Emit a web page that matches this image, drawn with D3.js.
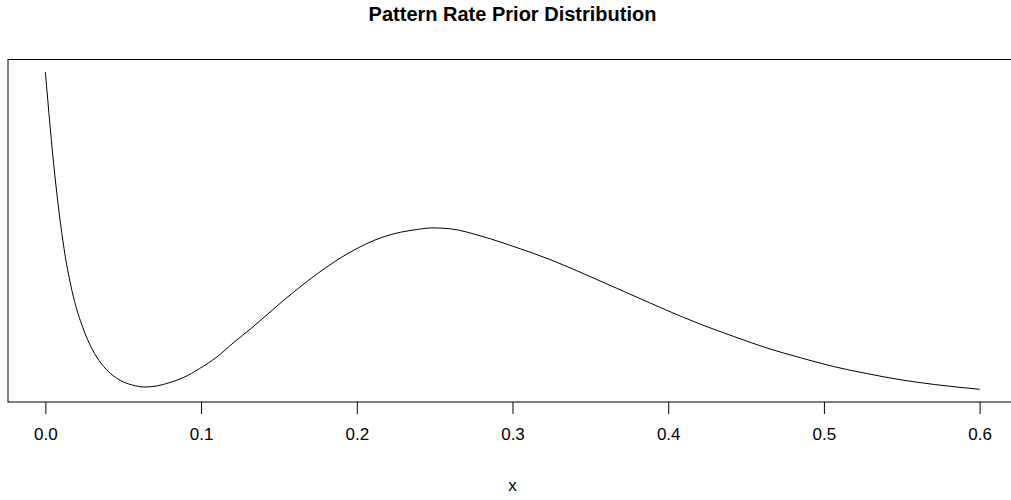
<!DOCTYPE html>
<html>
<head>
<meta charset="utf-8">
<script src="https://cdn.jsdelivr.net/npm/d3@7"></script>
<style>
  body { margin: 0; background: #fff; }
  svg { display: block; font-family: "Liberation Sans", Arial, sans-serif; }
</style>
</head>
<body>
<div id="chart"></div>
<script>
const xValues = [0.000, 0.006, 0.012, 0.018, 0.024, 0.030, 0.036, 0.042, 0.048, 0.056,
  0.064, 0.072, 0.080, 0.089, 0.099, 0.110, 0.121, 0.132, 0.153, 0.174,
  0.196, 0.217, 0.239, 0.249, 0.260, 0.281, 0.303, 0.324, 0.346, 0.367,
  0.388, 0.399, 0.421, 0.442, 0.463, 0.485, 0.506, 0.528, 0.549, 0.571, 0.600];
const density = [5.495, 3.80, 2.56, 1.76, 1.25, 0.89, 0.645, 0.48, 0.37, 0.29,
  0.258, 0.278, 0.333, 0.42, 0.565, 0.755, 1.00, 1.23, 1.70, 2.13,
  2.505, 2.755, 2.88, 2.905, 2.89, 2.76, 2.575, 2.38, 2.14, 1.90,
  1.66, 1.535, 1.30, 1.10, 0.91, 0.745, 0.60, 0.48, 0.38, 0.30, 0.22];
const xTicks = [0.0, 0.1, 0.2, 0.3, 0.4, 0.5, 0.6];

const width = 1011;
const height = 500;
// plot region like R's base graphics (box goes past the right edge)
const plot = { left: 8, right: 1017, top: 59.5, bottom: 402 };

const data = xValues.map((x, i) => ({ x: x, y: density[i] }));

// R pads the data range by 4% on each side
function padded(ext) {
  const p = (ext[1] - ext[0]) * 0.04;
  return [ext[0] - p, ext[1] + p];
}

const x = d3.scaleLinear()
  .domain(padded(d3.extent(xValues)))
  .range([plot.left, plot.right]);

const y = d3.scaleLinear()
  .domain(padded(d3.extent(density)))
  .range([plot.bottom, plot.top]);

const svg = d3.select("#chart")
  .append("svg")
  .attr("width", width)
  .attr("height", height);

svg.append("rect")
  .attr("x", plot.left)
  .attr("y", plot.top)
  .attr("width", plot.right - plot.left)
  .attr("height", plot.bottom - plot.top)
  .attr("fill", "none")
  .attr("stroke", "#000")
  .attr("stroke-width", 1);

const line = d3.line()
  .x(d => x(d.x))
  .y(d => y(d.y))
  .curve(d3.curveMonotoneX);

svg.append("path")
  .datum(data)
  .attr("d", line)
  .attr("fill", "none")
  .attr("stroke", "#000")
  .attr("stroke-width", 1);

const xAxis = svg.append("g")
  .attr("transform", `translate(0,${plot.bottom})`)
  .call(d3.axisBottom(x)
    .tickValues(xTicks)
    .tickFormat(d3.format(".1f"))
    .tickSize(12)
    .tickPadding(14));

xAxis.select(".domain").remove();
xAxis.selectAll("text")
  .attr("font-size", 17)
  .attr("font-family", "Liberation Sans, Arial, sans-serif")
  .attr("fill", "#000");

svg.append("text")
  .attr("x", (plot.left + plot.right) / 2)
  .attr("y", 491)
  .attr("text-anchor", "middle")
  .attr("font-size", 17)
  .text("x");

svg.append("text")
  .attr("x", (plot.left + plot.right) / 2)
  .attr("y", 21)
  .attr("text-anchor", "middle")
  .attr("font-size", 20)
  .attr("font-weight", "bold")
  .text("Pattern Rate Prior Distribution");
</script>
</body>
</html>
